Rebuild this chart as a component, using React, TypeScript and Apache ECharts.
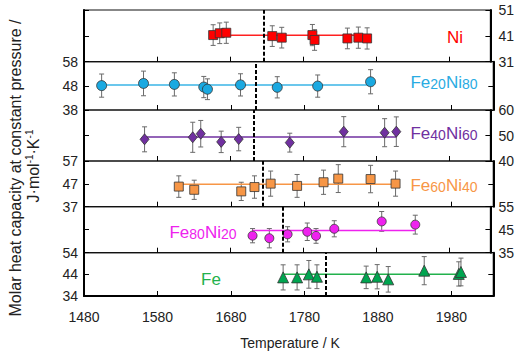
import React, { useEffect, useRef } from "react";
import * as echarts from "echarts";

// ---------- data ----------
const xMin = 1480;
const xMax = 2037;
const xStep = 100;

const niT = [1657, 1666, 1675, 1738, 1751, 1793, 1796, 1841, 1856, 1868];
const niCp = [41.3, 42.0, 42.2, 40.9, 40.3, 41.3, 39.4, 40.0, 40.3, 40.0];
const niErr = [4.0, 4.0, 4.1, 4.0, 4.0, 4.1, 4.0, 4.0, 4.1, 4.1];

const fe20T = [1504, 1561, 1603, 1643, 1648, 1693, 1743, 1798, 1870];
const fe20Cp = [48.1, 49.0, 48.6, 47.5, 46.6, 48.4, 47.4, 47.9, 49.7];
const fe20Err = [4.8, 5.1, 4.8, 4.4, 4.3, 4.6, 4.4, 4.6, 5.0];

const fe40T = [1563, 1629, 1640, 1668, 1692, 1762, 1836, 1892, 1908];
const fe40Cp = [48.5, 49.3, 50.7, 47.5, 48.6, 47.2, 51.5, 51.1, 51.5];
const fe40Err = [4.9, 5.9, 5.2, 4.2, 4.6, 3.7, 5.9, 5.5, 5.8];

const fe60T = [1609, 1630, 1694, 1712, 1734, 1770, 1806, 1826, 1870, 1904];
const fe60Cp = [45.8, 44.4, 43.7, 45.6, 47.1, 46.1, 47.7, 49.3, 49.1, 47.1];
const fe60Err = [4.7, 4.2, 4.0, 4.9, 5.5, 5.0, 5.3, 6.1, 6.0, 5.5];

const fe80T = [1711, 1734, 1759, 1786, 1798, 1823, 1888, 1934];
const fe80Cp = [42.4, 41.3, 43.0, 44.1, 42.3, 45.4, 48.6, 47.2];
const fe80Err = [3.1, 4.2, 3.3, 3.8, 3.2, 3.5, 4.3, 4.1];

const feT = [1751, 1770, 1786, 1797, 1864, 1879, 1894, 1943, 1990, 1993];
const feCp = [42.6, 42.6, 44.0, 42.9, 42.6, 42.9, 41.7, 45.7, 44.2, 45.1];
const feErr = [5.8, 5.8, 6.4, 5.5, 5.2, 5.6, 5.9, 6.5, 5.6, 6.4];

const meanCp = [41.2, 48.35, 49.4, 46.8, 44.6, 44.0];
const meltT = [1727, 1714, 1712, 1723, 1753, 1809];
const yMins = [31, 38, 40, 37, 35, 34];
const ySpan = 20;
const yStep = 10;

const temps = [niT, fe20T, fe40T, fe60T, fe80T, feT];
const cps = [niCp, fe20Cp, fe40Cp, fe60Cp, fe80Cp, feCp];
const errs = [niErr, fe20Err, fe40Err, fe60Err, fe80Err, feErr];

const labelTexts = [
  "{a|Ni}",
  "{a|Fe}{b|20}{a|Ni}{b|80}",
  "{a|Fe}{b|40}{a|Ni}{b|60}",
  "{a|Fe}{b|60}{a|Ni}{b|40}",
  "{a|Fe}{b|80}{a|Ni}{b|20}",
  "{a|Fe}",
];
const yTitle1 = "Molar heat capacity at constant pressure /";
const yTitle2 = "{n|J·mol}{s|-1}{n|·K}{s|-1}";
const xTitle = "Temperature / K";

// ---------- styles / layout ----------
const FONT = "'Liberation Sans', Arial, Helvetica, sans-serif";
const gridTops = [10, 61.7, 110, 161, 206.7, 252.7];
const gridHeights = [51.7, 48.3, 51, 45.7, 46, 43.3];
const labelSide = ["right", "left", "right", "left", "right", "left"];
const markerColors = ["#ff0000", "#1aa9e1", "#7030a0", "#f79646", "#ee22ee", "#00a550"];
const lineColors = ["#ff2020", "#3ab4e6", "#7030a0", "#f79646", "#ee22ee", "#22b14c"];
const textColors = ["#ff0000", "#29abe2", "#7030a0", "#f79646", "#ee22ee", "#22b14c"];
const symbols = ["rect", "circle", "diamond", "rect", "circle", "triangle"];
const symbolSizes: any[] = [9, 10, [9, 11], 9, 9, 11];
const labelPos = [
  [455, 37],
  [444, 82],
  [444, 133],
  [444, 185],
  [203, 232],
  [211, 279],
];

function buildOption() {
  const grids = gridTops.map((top, i) => ({
    left: 84,
    right: 23.7,
    top,
    height: gridHeights[i],
    show: true,
    borderColor: "#111",
    borderWidth: 1.2,
  }));

  const xAxes = gridTops.map((_, i) => ({
    type: "value",
    gridIndex: i,
    min: xMin,
    max: xMax,
    interval: xStep,
    axisLine: { show: i === 5, lineStyle: { color: "#000", width: 2 } },
    axisTick: { show: true, inside: true, length: 5, lineStyle: { color: "#000", width: 1 } },
    axisLabel: {
      show: i === 5,
      showMaxLabel: false,
      margin: 14,
      fontSize: 14,
      color: "#222",
      fontFamily: FONT,
      formatter: (v: number) => String(Math.round(v)),
    },
    splitLine: { show: false },
  }));

  const yAxes: any[] = [];
  gridTops.forEach((_, i) => {
    const side = labelSide[i];
    const other = side === "left" ? "right" : "left";
    const base = {
      type: "value",
      gridIndex: i,
      min: yMins[i],
      max: yMins[i] + ySpan,
      interval: yStep,
      axisLine: { show: true, lineStyle: { color: "#000", width: 2 } },
      axisTick: { show: true, inside: true, length: 5, lineStyle: { color: "#000", width: 1 } },
      splitLine: { show: false },
    };
    yAxes.push({
      ...base,
      position: side,
      axisLabel: {
        show: true,
        margin: side === "left" ? 6 : 8,
        fontSize: 14,
        color: "#222",
        fontFamily: FONT,
        formatter: (v: number) => String(Math.round(v)),
      },
    });
    yAxes.push({ ...base, position: other, axisLabel: { show: false } });
  });

  const series: any[] = [];
  temps.forEach((T, i) => {
    const cp = cps[i];
    const er = errs[i];
    series.push({
      type: "custom",
      xAxisIndex: i,
      yAxisIndex: 2 * i,
      z: 1,
      data: T.map((t, j) => [t, cp[j] - er[j], cp[j] + er[j]]),
      encode: { x: 0, y: [1, 2] },
      renderItem: (params: any, api: any) => {
        const x = api.value(0);
        const top = api.coord([x, api.value(2)]);
        const bot = api.coord([x, api.value(1)]);
        const w = 2.5;
        const st = { stroke: "#6a6a6a", lineWidth: 1 };
        return {
          type: "group",
          children: [
            { type: "line", shape: { x1: top[0], y1: top[1], x2: bot[0], y2: bot[1] }, style: st },
            { type: "line", shape: { x1: top[0] - w, y1: top[1], x2: top[0] + w, y2: top[1] }, style: st },
            { type: "line", shape: { x1: bot[0] - w, y1: bot[1], x2: bot[0] + w, y2: bot[1] }, style: st },
          ],
        };
      },
    });
    series.push({
      type: "line",
      xAxisIndex: i,
      yAxisIndex: 2 * i,
      z: 2,
      symbol: "none",
      showSymbol: false,
      data: [
        [Math.min(...T), meanCp[i]],
        [Math.max(...T), meanCp[i]],
      ],
      lineStyle: { color: lineColors[i], width: 1.5 },
      markLine: {
        silent: true,
        symbol: ["none", "none"],
        label: { show: false },
        lineStyle: { type: [4, 2], color: "#000", width: 2 },
        data: [{ xAxis: meltT[i] }],
      },
    });
    series.push({
      type: "scatter",
      xAxisIndex: i,
      yAxisIndex: 2 * i,
      z: 3,
      symbol: symbols[i],
      symbolSize: symbolSizes[i],
      data: T.map((t, j) => [t, cp[j]]),
      itemStyle: { color: markerColors[i], borderColor: "#333", borderWidth: 0.8, opacity: 1 },
    });
  });

  const graphic: any[] = labelTexts.map((txt, i) => ({
    type: "text",
    x: labelPos[i][0],
    y: labelPos[i][1],
    silent: true,
    style: {
      text: txt,
      fill: textColors[i],
      align: "center",
      verticalAlign: "middle",
      rich: {
        a: { fontSize: 17, lineHeight: 17, fontFamily: FONT, fill: textColors[i], verticalAlign: "bottom" },
        b: { fontSize: 14, lineHeight: 14, fontFamily: FONT, fill: textColors[i], verticalAlign: "bottom" },
      },
    },
  }));
  graphic.push({
    type: "text",
    x: 15.5,
    y: 168,
    rotation: Math.PI / 2,
    silent: true,
    style: {
      text: yTitle1,
      fontSize: 16,
      fontFamily: FONT,
      fill: "#222",
      align: "center",
      verticalAlign: "middle",
    },
  });
  graphic.push({
    type: "text",
    x: 33,
    y: 166,
    rotation: Math.PI / 2,
    silent: true,
    style: {
      text: yTitle2,
      fill: "#222",
      align: "center",
      verticalAlign: "middle",
      rich: {
        n: { fontSize: 16, lineHeight: 17, fontFamily: FONT, fill: "#222", verticalAlign: "bottom" },
        s: { fontSize: 10, lineHeight: 10, fontFamily: FONT, fill: "#222", verticalAlign: "top" },
      },
    },
  });
  graphic.push({
    type: "text",
    x: 290,
    y: 343,
    silent: true,
    style: {
      text: xTitle,
      fontSize: 14,
      fontFamily: FONT,
      fill: "#222",
      align: "center",
      verticalAlign: "middle",
    },
  });

  return {
    animation: false,
    backgroundColor: "#fff",
    textStyle: { fontFamily: FONT },
    grid: grids,
    xAxis: xAxes,
    yAxis: yAxes,
    series,
    graphic,
  };
}

export default function App() {
  const ref = useRef<HTMLDivElement>(null);
  useEffect(() => {
    if (!ref.current) return;
    const chart = echarts.init(ref.current, undefined, { renderer: "svg" });
    chart.setOption(buildOption() as any);
    return () => chart.dispose();
  }, []);
  return (
    <div
      ref={ref}
      style={{ position: "absolute", left: 0, top: 0, width: 517, height: 351 }}
    />
  );
}
